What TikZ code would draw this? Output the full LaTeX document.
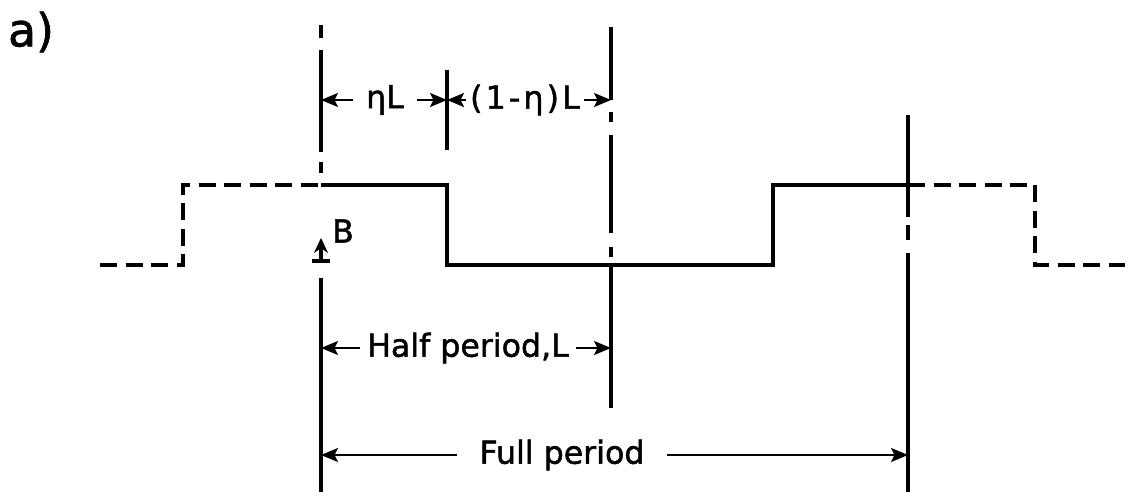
\documentclass[tikz,border=0pt]{standalone}
\usepackage{fontspec}
\setmainfont{DejaVu Sans}[FakeBold=1.5]
\usetikzlibrary{arrows.meta}
\tikzset{
  wave/.style={line width=2.5pt,line join=miter},
  wavedash/.style={wave,dash pattern=on 0.34cm off 0.17cm},
  refline/.style={line width=2.2pt},
  dim/.style={line width=1.4pt,-{Stealth[length=3.4mm,width=2.8mm,inset=0.7mm]}},
  bvec/.style={line width=1.8pt,{Bar[width=3.6mm,line width=2.2pt]}-{Stealth[length=3mm,width=2.8mm]}},
  lbl/.style={font=\fontsize{18}{20}\selectfont,inner sep=2pt}
}
\begin{document}
\begin{tikzpicture}[x=1cm,y=1cm]
  \useasboundingbox (0,0) rectangle (22.58,10);
  % Reference lines: start of period, half period, full period.
  \coordinate (ln) at (6.42,0.16);
  \coordinate (tk) at (8.94,7.0);
  \coordinate (mid) at (12.22,1.84);
  \coordinate (rn) at (18.16,0.16);
  \foreach \a/\b in {9.5/9.24,9.0/6.96,6.76/6.54,4.44/0.16} {\draw[refline] (6.42,\a)--(6.42,\b);}
  \foreach \a/\b in {9.46/8.0,7.76/7.56,7.3/5.34,5.06/4.86,4.7/1.84} {\draw[refline] (12.22,\a)--(12.22,\b);}
  \foreach \a/\b in {7.7/5.66,5.5/5.2,4.94/0.16} {\draw[refline] (18.16,\a)--(18.16,\b);}
  \draw[refline] (8.94,8.6)--(tk);

  % Square wave, one period solid, neighbours dashed.
  \draw[wavedash] (2.0,4.7)--(3.66,4.7)--(3.66,6.3)--(6.42,6.3);
  \draw[wave] (6.42,6.3)--(8.94,6.3)--(8.94,4.7)--(15.46,4.7)--(15.46,6.3)--(18.16,6.3);
  \draw[wavedash] (18.16,6.3)--(20.7,6.3)--(20.7,4.7)--(22.5,4.7);

  % Field direction.
  \draw[bvec] (6.42,4.74)--(6.42,5.24);
  \node[lbl] (bfield) at (6.86,5.38) {B};

  % Dimensions.
  \node[lbl,inner xsep=0.25cm] (etaL) at (7.7,8.0) {ηL};
  \node[lbl,font=\fontsize{18}{20}\selectfont\addfontfeature{LetterSpace=10}] (onemeta) at (10.5,8.0) {(1-η)L};
  \draw[dim] (etaL.west)--(etaL.west -| ln);
  \draw[dim] (etaL.east)--(etaL.east -| tk);
  \draw[dim] (onemeta.west)--(onemeta.west -| tk);
  \draw[dim] (onemeta.east)--(onemeta.east -| mid);
  \node[lbl,inner xsep=4pt] (half) at (9.36,3.04) {Half period,L};
  \draw[dim] (half.west)--(half.west -| ln);
  \draw[dim] (half.east)--(half.east -| mid);
  \node[lbl,inner xsep=0.45cm] (full) at (11.24,0.9) {Full period};
  \draw[dim] (full.west)--(full.west -| ln);
  \draw[dim] (full.east)--(full.east -| rn);

  \node[font=\fontsize{26}{28}\selectfont] (panel) at (0.62,9.36) {a)};
\end{tikzpicture}
\end{document}
